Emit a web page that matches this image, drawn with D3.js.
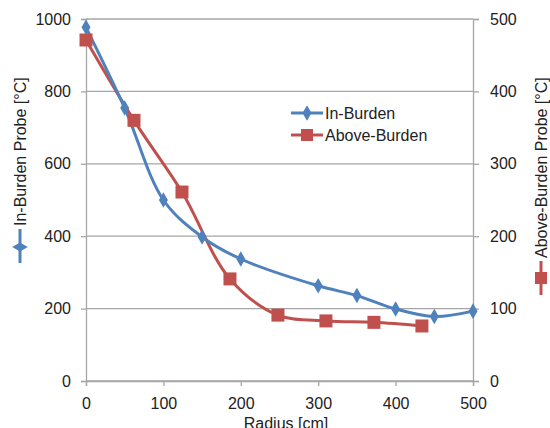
<!DOCTYPE html>
<html>
<head>
<meta charset="utf-8">
<script src="https://cdn.jsdelivr.net/npm/d3@7"></script>
<style>
  body { margin: 0; background: #fff; }
  text { font-family: "Liberation Sans", Arial, sans-serif; fill: #222; }
</style>
</head>
<body>
<div id="chart"></div>
<script>
// radius [cm] and temperatures [°C]
var inRadius = [0, 50, 100, 150, 200, 300, 350, 400, 450, 500];
var inTemp = [977, 754, 500, 398, 337, 263, 236, 199, 178, 193];
var aboveRadius = [0, 62, 124, 186, 248, 310, 372, 434];
var aboveTemp = [471, 360, 261, 141, 91, 83, 81, 76];

var xTicks = [0, 100, 200, 300, 400, 500];
var leftTicks = [0, 200, 400, 600, 800, 1000];
var rightTicks = [0, 100, 200, 300, 400, 500];

var blue = "#4f81bd",
    red = "#c0504d",
    grid = "#a6a6a6";

var width = 550,
    height = 428,
    plotLeft = 86,
    plotRight = 473,
    plotTop = 19,
    plotBottom = 381;

var svg = d3.select("#chart").append("svg")
    .attr("width", width)
    .attr("height", height);

var x = d3.scaleLinear().domain([0, 500]).range([plotLeft, plotRight]);
var yL = d3.scaleLinear().domain([0, 1000]).range([plotBottom, plotTop]);
var yR = d3.scaleLinear().domain([0, 500]).range([plotBottom, plotTop]);

/** gridlines **/
svg.append("g").selectAll("line")
    .data(leftTicks)
    .enter().append("line")
    .attr("x1", plotLeft).attr("x2", plotRight)
    .attr("y1", function(d) { return yL(d); })
    .attr("y2", function(d) { return yL(d); })
    .style("stroke", grid)
    .style("stroke-width", 1.3);

/** axes **/
var fmt = d3.format("d");
var axisL = svg.append("g")
    .attr("transform", "translate(" + plotLeft + ",0)")
    .call(d3.axisLeft(yL).tickValues(leftTicks).tickFormat(fmt).tickSize(5).tickPadding(10));
var axisR = svg.append("g")
    .attr("transform", "translate(" + plotRight + ",0)")
    .call(d3.axisRight(yR).tickValues(rightTicks).tickFormat(fmt).tickSize(6).tickPadding(11));
var axisB = svg.append("g")
    .attr("transform", "translate(0," + plotBottom + ")")
    .call(d3.axisBottom(x).tickValues(xTicks).tickFormat(fmt).tickSize(5).tickPadding(12));

[axisL, axisR, axisB].forEach(function(a) {
    a.select(".domain").style("stroke", grid).style("stroke-width", 1.3);
    a.selectAll(".tick line").style("stroke", grid).style("stroke-width", 1.3);
    a.selectAll(".tick text")
        .style("font-family", "Liberation Sans, Arial, sans-serif")
        .style("font-size", "16px")
        .style("fill", "#222");
});

/** series **/
var lineIn = d3.line()
    .x(function(d, i) { return x(inRadius[i]); })
    .y(function(d) { return yL(d); })
    .curve(d3.curveCatmullRom.alpha(0.5));

var lineAbove = d3.line()
    .x(function(d, i) { return x(aboveRadius[i]); })
    .y(function(d) { return yR(d); })
    .curve(d3.curveCatmullRom.alpha(0.5));

svg.append("path")
    .attr("d", lineAbove(aboveTemp))
    .style("fill", "none")
    .style("stroke", red)
    .style("stroke-width", 3);

svg.append("path")
    .attr("d", lineIn(inTemp))
    .style("fill", "none")
    .style("stroke", blue)
    .style("stroke-width", 3);

var diamond = d3.symbol().type(d3.symbolDiamond).size(70);

svg.append("g").selectAll("path")
    .data(inTemp)
    .enter().append("path")
    .attr("d", diamond)
    .attr("transform", function(d, i) {
        return "translate(" + x(inRadius[i]) + "," + yL(d) + ")";
    })
    .style("fill", blue);

svg.append("g").selectAll("rect")
    .data(aboveTemp)
    .enter().append("rect")
    .attr("x", function(d, i) { return x(aboveRadius[i]) - 6.5; })
    .attr("y", function(d) { return yR(d) - 6.5; })
    .attr("width", 13)
    .attr("height", 13)
    .style("fill", red);

/** legend **/
var legend = svg.append("g");
var entries = [
    { name: "In-Burden", color: blue, y: 113, mark: "diamond" },
    { name: "Above-Burden", color: red, y: 135, mark: "square" }
];
entries.forEach(function(e) {
    legend.append("line")
        .attr("x1", 291).attr("x2", 323)
        .attr("y1", e.y).attr("y2", e.y)
        .style("stroke", e.color).style("stroke-width", 3);
    if (e.mark == "diamond") {
        legend.append("path").attr("d", diamond)
            .attr("transform", "translate(307," + e.y + ")")
            .style("fill", e.color);
    } else {
        legend.append("rect")
            .attr("x", 301).attr("y", e.y - 6)
            .attr("width", 12).attr("height", 12)
            .style("fill", e.color);
    }
    legend.append("text")
        .attr("x", 325).attr("y", e.y + 6)
        .style("font-size", "16px")
        .text(e.name);
});

/** axis titles with their series key **/
var leftTitle = svg.append("g").attr("transform", "translate(26,226) rotate(-90)");
leftTitle.append("text")
    .attr("x", 0).attr("y", 0)
    .style("font-size", "16px")
    .text("In-Burden Probe [°C]");
leftTitle.append("line")
    .attr("x1", -3).attr("x2", -37).attr("y1", -6).attr("y2", -6)
    .style("stroke", blue).style("stroke-width", 3);
leftTitle.append("path").attr("d", diamond)
    .attr("transform", "translate(-21,-6)")
    .style("fill", blue);

var rightTitle = svg.append("g").attr("transform", "translate(547,258) rotate(-90)");
rightTitle.append("text")
    .attr("x", 0).attr("y", 0)
    .style("font-size", "16px")
    .text("Above-Burden Probe [°C]");
rightTitle.append("line")
    .attr("x1", -3).attr("x2", -37).attr("y1", -6).attr("y2", -6)
    .style("stroke", red).style("stroke-width", 3);
rightTitle.append("rect")
    .attr("x", -26).attr("y", -12)
    .attr("width", 12).attr("height", 12)
    .style("fill", red);

svg.append("text")
    .attr("x", 286).attr("y", 429)
    .attr("text-anchor", "middle")
    .style("font-size", "16px")
    .text("Radius [cm]");
</script>
</body>
</html>
